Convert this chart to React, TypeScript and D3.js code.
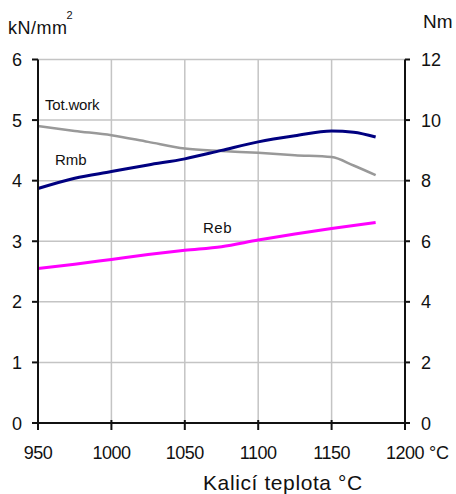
import * as d3 from "d3";

// hardening temperature (°C)
const temps = [950, 975, 1000, 1025, 1050, 1075, 1100, 1125, 1150, 1165, 1180];
// strength values (kN/mm2, left axis)
const rmb = [3.87, 4.04, 4.15, 4.26, 4.36, 4.5, 4.64, 4.74, 4.82, 4.8, 4.72];
const reb = [2.55, 2.62, 2.7, 2.78, 2.85, 2.91, 3.02, 3.12, 3.21, 3.26, 3.31];
// total work (Nm, right axis)
const totWork = [9.8, 9.64, 9.5, 9.28, 9.06, 8.98, 8.92, 8.84, 8.78, 8.5, 8.18];

const xTicks = [950, 1000, 1050, 1100, 1150, 1200];
const leftTicks = [0, 1, 2, 3, 4, 5, 6];
const rightTicks = [0, 2, 4, 6, 8, 10, 12];

const W = 456;
const H = 494;
const FONT = "'Liberation Sans', Arial, sans-serif";

export default function App() {
  const x = d3.scaleLinear().domain([950, 1200]).range([38, 405]);
  const yL = d3.scaleLinear().domain([0, 6]).range([423, 59.5]);
  const yR = d3.scaleLinear().domain([0, 12]).range([423, 59.5]);

  const lineL = d3
    .line<number>()
    .x((_, i) => x(temps[i]))
    .y((d) => yL(d))
    .curve(d3.curveMonotoneX);
  const lineR = d3
    .line<number>()
    .x((_, i) => x(temps[i]))
    .y((d) => yR(d))
    .curve(d3.curveMonotoneX);

  const [x0, x1] = x.range();
  const [y0, y1] = yL.range();

  return (
    <svg
      width={W}
      height={H}
      style={{ position: "absolute", left: 0, top: 0, background: "#fff" }}
      fontFamily={FONT}
    >
      {/* grid */}
      <g stroke="#c4c4c4" strokeWidth={1.5}>
        {leftTicks.map((t) => (
          <line key={"h" + t} x1={x0} x2={x1} y1={yL(t)} y2={yL(t)} />
        ))}
        {xTicks.map((t) => (
          <line key={"v" + t} x1={x(t)} x2={x(t)} y1={y0} y2={y1} />
        ))}
      </g>

      {/* series */}
      <path d={lineR(totWork) ?? ""} fill="none" stroke="#999999" strokeWidth={2.5} />
      <path d={lineL(rmb) ?? ""} fill="none" stroke="#000080" strokeWidth={3} />
      <path d={lineL(reb) ?? ""} fill="none" stroke="#ff00ff" strokeWidth={3} />

      {/* axes */}
      <g stroke="#111" strokeWidth={2}>
        <line x1={x0} x2={x0} y1={y0} y2={y1} />
        <line x1={x1} x2={x1} y1={y0} y2={y1} />
        <line x1={x0} x2={x1} y1={y0} y2={y0} />
        {leftTicks.map((t) => (
          <line key={"lt" + t} x1={x0 - 6} x2={x0} y1={yL(t)} y2={yL(t)} />
        ))}
        {rightTicks.map((t) => (
          <line key={"rt" + t} x1={x1} x2={x1 + 5} y1={yR(t)} y2={yR(t)} />
        ))}
        {xTicks.map((t) => (
          <line key={"bt" + t} x1={x(t)} x2={x(t)} y1={y0 - 3} y2={y0 + 7} />
        ))}
      </g>

      {/* tick labels */}
      <g fontSize={18} fill="#111">
        {leftTicks.map((t) => (
          <text key={"ll" + t} x={22} y={yL(t) + 6.5} textAnchor="end">
            {t}
          </text>
        ))}
        {rightTicks.map((t) => (
          <text key={"rl" + t} x={421} y={yR(t) + 6.5}>
            {t}
          </text>
        ))}
        {xTicks.map((t) => (
          <text key={"xl" + t} x={x(t)} y={459} textAnchor="middle" letterSpacing={-0.5}>
            {t}
          </text>
        ))}
        <text x={x(1200) + 24} y={459} letterSpacing={-0.3}>
          °C
        </text>
      </g>

      {/* units */}
      <text x={8} y={34} fontSize={18} fill="#111" letterSpacing={0.5}>
        kN/mm
        <tspan fontSize={11} dy={-15} dx={-1}>
          2
        </tspan>
      </text>
      <text x={423} y={28} fontSize={19} fill="#111">
        Nm
      </text>

      {/* series labels */}
      <g fontSize={15} fill="#111">
        <text x={45} y={110} letterSpacing={-0.2}>
          Tot.work
        </text>
        <text x={55} y={165}>
          Rmb
        </text>
        <text x={203} y={233} letterSpacing={0.5}>
          Reb
        </text>
      </g>

      {/* axis title */}
      <text x={203} y={490} fontSize={21} fill="#111" letterSpacing={0.6}>
        Kalicí teplota °C
      </text>
    </svg>
  );
}
